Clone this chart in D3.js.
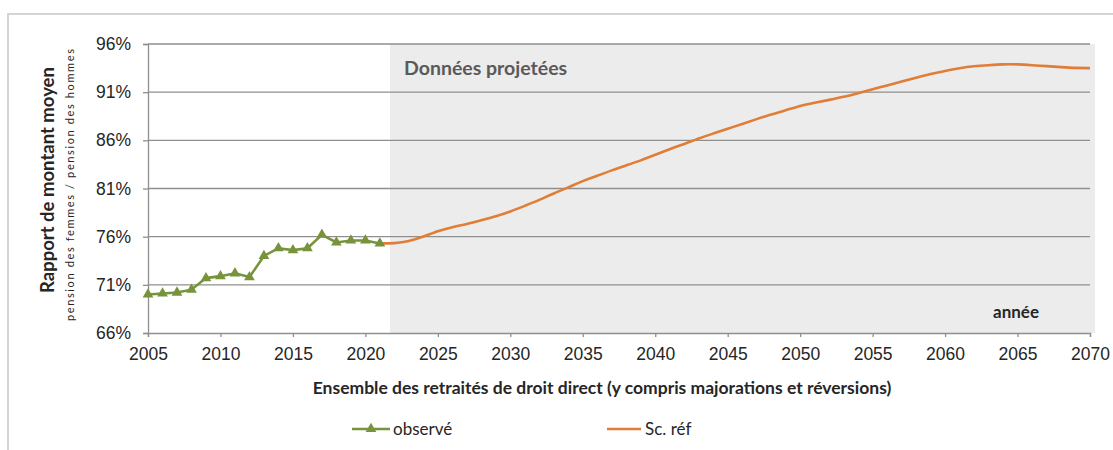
<!DOCTYPE html>
<html>
<head>
<meta charset="utf-8">
<script src="https://cdn.jsdelivr.net/npm/d3@7"></script>
<style>
  body { margin: 0; background: #fff; }
  svg { display: block; font-family: Lato, "Open Sans", sans-serif; }
</style>
</head>
<body>
<svg id="chart" width="1113" height="450"></svg>
<script>
// observed ratio (women / men average pension), %
const obsYears = [2005, 2006, 2007, 2008, 2009, 2010, 2011, 2012, 2013, 2014, 2015, 2016, 2017, 2018, 2019, 2020, 2021];
const obsValues = [70.0, 70.1, 70.2, 70.5, 71.7, 71.9, 72.2, 71.8, 74.0, 74.8, 74.6, 74.8, 76.2, 75.4, 75.6, 75.6, 75.3];

// projection, reference scenario
const refYears = [2021, 2022, 2023, 2024, 2025, 2026, 2027, 2028, 2029, 2030,
	2031, 2032, 2033, 2034, 2035, 2036, 2037, 2038, 2039, 2040,
	2041, 2042, 2043, 2044, 2045, 2046, 2047, 2048, 2049, 2050,
	2051, 2052, 2053, 2054, 2055, 2056, 2057, 2058, 2059, 2060,
	2061, 2062, 2063, 2064, 2065, 2066, 2067, 2068, 2069, 2070];
const refValues = [75.3, 75.3, 75.5, 76.0, 76.6, 77.0, 77.3, 77.7, 78.1, 78.6,
	79.2, 79.8, 80.5, 81.1, 81.8, 82.3, 82.9, 83.4, 83.9, 84.5,
	85.1, 85.6, 86.2, 86.7, 87.2, 87.7, 88.2, 88.7, 89.1, 89.6,
	89.9, 90.2, 90.5, 90.9, 91.3, 91.7, 92.1, 92.5, 92.9, 93.2,
	93.5, 93.7, 93.8, 93.9, 93.9, 93.8, 93.7, 93.6, 93.5, 93.5];

const yTicks = [66, 71, 76, 81, 86, 91, 96];
const xTicks = [2005, 2010, 2015, 2020, 2025, 2030, 2035, 2040, 2045, 2050, 2055, 2060, 2065, 2070];
const projStart = 2021.7;

const svg = d3.select("#chart");
const plotLeft = 148, plotRight = 1090, plotTop = 44, plotBottom = 333;

const x = d3.scaleLinear().domain([2005, 2070]).range([plotLeft, plotRight]);
const y = d3.scaleLinear().domain([66, 96]).range([plotBottom, plotTop]);

const green = "#77933c";
const orange = "#e07d36";
const textColor = "#262626";

// outer frame
svg.append("rect")
	.attr("x", 8).attr("y", 14)
	.attr("width", 1120).attr("height", 450)
	.attr("fill", "none")
	.attr("stroke", "#d4d4d4")
	.attr("stroke-width", 2);

// projected zone
svg.append("rect")
	.attr("x", x(projStart)).attr("y", plotTop)
	.attr("width", plotRight + 5 - x(projStart))
	.attr("height", plotBottom - plotTop)
	.attr("fill", "#ececec");

// horizontal grid
svg.append("g")
	.selectAll("line")
	.data(yTicks.slice(1))
	.join("line")
	.attr("x1", plotLeft).attr("x2", plotRight)
	.attr("y1", d => y(d)).attr("y2", d => y(d))
	.attr("stroke", "#8f8f8f")
	.attr("stroke-width", 1.3);

// y axis
const yAxis = svg.append("g")
	.attr("transform", `translate(${plotLeft},0)`)
	.call(d3.axisLeft(y).tickValues(yTicks).tickFormat(d => d + "%").tickSize(5).tickPadding(12));
yAxis.select(".domain").attr("stroke", "#8f8f8f").attr("stroke-width", 1.3);
yAxis.selectAll(".tick line").attr("stroke", "#8f8f8f").attr("stroke-width", 1.3);
yAxis.selectAll("text").attr("font-size", 17.5).attr("fill", textColor);

// x axis
const xAxis = svg.append("g")
	.attr("transform", `translate(0,${plotBottom})`)
	.call(d3.axisBottom(x).tickValues(xTicks).tickFormat(d3.format("d")).tickSize(4).tickPadding(11));
xAxis.select(".domain").attr("stroke", "#8f8f8f").attr("stroke-width", 1.3);
xAxis.selectAll(".tick line").attr("stroke", "#8f8f8f").attr("stroke-width", 1.3);
xAxis.selectAll("text").attr("font-size", 17.5).attr("fill", textColor);

// series
const obs = obsYears.map((d, i) => ({ year: d, value: obsValues[i] }));
const ref = refYears.map((d, i) => ({ year: d, value: refValues[i] }));

svg.append("path")
	.datum(ref)
	.attr("fill", "none")
	.attr("stroke", orange)
	.attr("stroke-width", 2.6)
	.attr("d", d3.line().x(d => x(d.year)).y(d => y(d.value)).curve(d3.curveBasis));

svg.append("path")
	.datum(obs)
	.attr("fill", "none")
	.attr("stroke", green)
	.attr("stroke-width", 2.6)
	.attr("d", d3.line().x(d => x(d.year)).y(d => y(d.value)));

const tri = d3.symbol().type(d3.symbolTriangle).size(50);
svg.append("g")
	.selectAll("path")
	.data(obs)
	.join("path")
	.attr("transform", d => `translate(${x(d.year)},${y(d.value)})`)
	.attr("d", tri)
	.attr("fill", green);

// annotations
svg.append("text")
	.attr("x", 404).attr("y", 75)
	.attr("font-size", 19.5).attr("font-weight", "bold")
	.attr("fill", "#5a5a5a")
	.text("Données projetées");

svg.append("text")
	.attr("x", 1016).attr("y", 318)
	.attr("text-anchor", "middle")
	.attr("font-size", 17).attr("font-weight", "bold")
	.attr("fill", textColor)
	.text("année");

// axis titles
svg.append("text")
	.attr("transform", "translate(54,180) rotate(-90)")
	.attr("text-anchor", "middle")
	.attr("font-size", 18.5).attr("font-weight", "bold")
	.attr("fill", textColor)
	.text("Rapport de montant moyen");

svg.append("text")
	.attr("transform", "translate(74,185) rotate(-90)")
	.attr("text-anchor", "middle")
	.attr("font-size", 11)
	.attr("fill", textColor)
	.attr("textLength", 272)
	.attr("lengthAdjust", "spacing")
	.text("pension des femmes / pension des hommes");

svg.append("text")
	.attr("x", 602).attr("y", 394)
	.attr("text-anchor", "middle")
	.attr("font-size", 17.5).attr("font-weight", "bold")
	.attr("fill", textColor)
	.text("Ensemble des retraités de droit direct (y compris majorations et réversions)");

// legend
const legend = svg.append("g").attr("font-size", 17).attr("fill", textColor);

legend.append("line")
	.attr("x1", 352).attr("x2", 390).attr("y1", 429).attr("y2", 429)
	.attr("stroke", green).attr("stroke-width", 2.6);
legend.append("path")
	.attr("transform", "translate(371,429)")
	.attr("d", tri)
	.attr("fill", green);
legend.append("text")
	.attr("x", 393).attr("y", 435)
	.text("observé");

legend.append("line")
	.attr("x1", 607).attr("x2", 641).attr("y1", 429).attr("y2", 429)
	.attr("stroke", orange).attr("stroke-width", 2.6);
legend.append("text")
	.attr("x", 645).attr("y", 435)
	.text("Sc. réf");
</script>
</body>
</html>
